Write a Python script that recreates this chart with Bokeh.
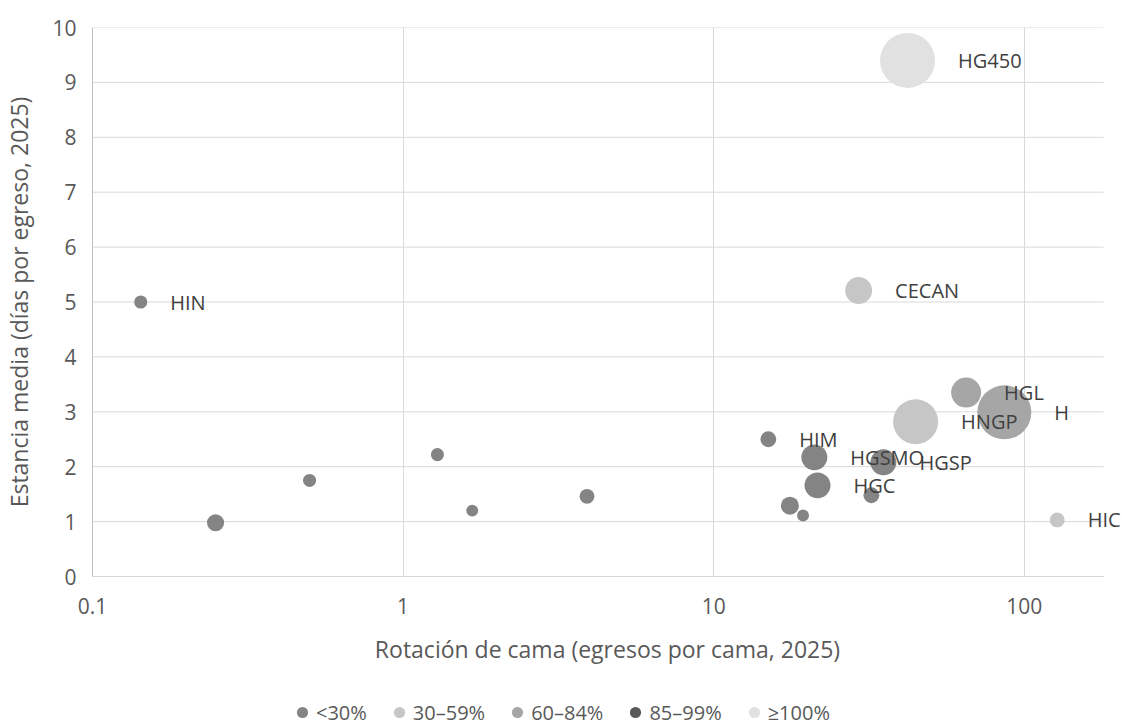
import math
from bokeh.plotting import figure
from bokeh.layouts import column
from bokeh.models import ColumnDataSource, FixedTicker, Legend, LegendItem
from bokeh.core.properties import value
from bokeh.embed import file_html
from bokeh.resources import INLINE

# ---------------- data ----------------
hospitales = ["HIN", "", "", "", "", "", "HIM", "HGSMO", "HGC", "", "", "",
              "HGSP", "HNGP", "HGL", "H", "HIC", "CECAN", "HG450"]
rotacion = [0.143, 0.249, 0.50, 1.29, 1.67, 3.91, 15.0, 21.1, 21.6, 17.6, 19.4, 32.2,
            35.2, 44.7, 65.0, 86.3, 127.7, 29.3, 42.1]
estancia = [5.00, 0.98, 1.75, 2.22, 1.20, 1.46, 2.50, 2.17, 1.66, 1.29, 1.11, 1.48,
            2.08, 2.82, 3.35, 2.99, 1.03, 5.21, 9.40]
camas = [17, 29, 17, 17, 14, 22, 25, 67, 67, 32, 14, 25,
         67, 201, 89, 289, 22, 72, 300]
ocupacion = ["<30%", "<30%", "<30%", "<30%", "<30%", "<30%", "<30%", "<30%", "<30%", "<30%", "<30%", "<30%",
             "<30%", "30–59%", "60–84%", "60–84%", "30–59%", "30–59%", "≥100%"]

categorias = ["<30%", "30–59%", "60–84%", "85–99%", "≥100%"]
colores = ["#848484", "#C6C6C6", "#A6A6A6", "#595959", "#E1E1E1"]

x_ticks = [0.1, 1, 10, 100]
x_tick_labels = ["0.1", "1", "10", "100"]
y_ticks = list(range(0, 11))
y_tick_labels = [str(v) for v in y_ticks]

X_MIN, X_MAX = 0.1, 180      # visible axis extent (gridlines / axis line end here)
FONT = "Open Sans"
MAX_R = 27.5                 # px radius of the largest bubble

W = 1122
H_MAIN, H_LEG = 680, 46
LEFT, TOP = 92, 27
FRAME_BOTTOM = 576
AXIS_RIGHT = 1103            # pixel where the axis/gridlines end; labels may pass it
frame_w = W - LEFT
x_end = 10 ** (math.log10(X_MIN) + (math.log10(X_MAX) - math.log10(X_MIN)) * frame_w / (AXIS_RIGHT - LEFT))

# ---------------- main figure ----------------
p = figure(width=W, height=H_MAIN, x_axis_type="log", x_range=(X_MIN, x_end), y_range=(0, 10),
           output_backend="svg", toolbar_location=None,
           min_border_left=LEFT, min_border_right=0, min_border_top=TOP,
           min_border_bottom=H_MAIN - FRAME_BOTTOM)
p.outline_line_color = None
p.background_fill_color = "white"
p.border_fill_color = "white"

# horizontal gridlines that stop at the axis extent
p.ygrid.visible = False
p.segment(x0=[X_MIN] * len(y_ticks), x1=[X_MAX] * len(y_ticks), y0=y_ticks, y1=y_ticks,
          line_color="#D9D9D9", line_width=1)
p.segment(x0=[X_MIN], x1=[X_MAX], y0=[y_ticks[0]], y1=[y_ticks[0]], line_color="#BFBFBF", line_width=1)

cmax = max(camas)
diam = [2 * MAX_R * math.sqrt(c / cmax) for c in camas]
offs = [d / 2 + 23 for d in diam]

for cat, col in zip(categorias, colores):
    idx = [i for i, o in enumerate(ocupacion) if o == cat]
    src = ColumnDataSource(dict(x=[rotacion[i] for i in idx], y=[estancia[i] for i in idx],
                                s=[diam[i] for i in idx]))
    p.scatter(x="x", y="y", size="s", source=src, fill_color=col, line_color=None)

lab_src = ColumnDataSource(dict(x=rotacion, y=estancia, t=hospitales, off=offs))
p.text(x="x", y="y", text="t", source=lab_src, x_offset="off", text_baseline="middle",
       text_align="left", text_font=value(FONT), text_font_size="20px", text_color="#404040")

# axes
for ax in (p.xaxis[0], p.yaxis[0]):
    ax.major_tick_line_color = None
    ax.minor_tick_line_color = None
    ax.axis_line_color = "#BFBFBF"
    ax.major_label_text_font = FONT
    ax.major_label_text_font_size = "21px"
    ax.major_label_text_color = "#595959"
    ax.axis_label_text_font = FONT
    ax.axis_label_text_font_size = "23px"
    ax.axis_label_text_color = "#595959"
    ax.axis_label_text_font_style = "normal"

p.xaxis.axis_line_color = None
p.xaxis.ticker = FixedTicker(ticks=x_ticks)
p.xaxis.major_label_overrides = {t: l for t, l in zip(x_ticks, x_tick_labels)}
p.xaxis.axis_label = "Rotación de cama (egresos por cama, 2025)"
p.xaxis.major_label_standoff = 15
p.xaxis.axis_label_standoff = 16

p.yaxis.ticker = FixedTicker(ticks=y_ticks)
p.yaxis.major_label_overrides = {t: l for t, l in zip(y_ticks, y_tick_labels)}
p.yaxis.axis_label = "Estancia media (días por egreso, 2025)"
p.yaxis.major_label_standoff = 10
p.yaxis.axis_label_standoff = 14

p.xgrid.ticker = FixedTicker(ticks=x_ticks)
p.xgrid.grid_line_color = "#D9D9D9"
p.xgrid.minor_grid_line_color = None

# ---------------- legend strip ----------------
leg = figure(width=W, height=H_LEG, x_range=(0, 1), y_range=(0, 1),
             output_backend="svg", toolbar_location=None,
             x_axis_location=None, y_axis_location=None,
             min_border_left=0, min_border_right=0, min_border_top=0, min_border_bottom=0)
leg.outline_line_color = None
leg.xgrid.visible = False
leg.ygrid.visible = False
proxy_src = ColumnDataSource(dict(x=rotacion, y=estancia))
leg_renderers = []
for col in colores:
    r = leg.scatter(x="x", y="y", source=proxy_src, size=12, fill_color=col, line_color=None)
    r.visible = False   # legend proxy only
    leg_renderers.append(r)

legend = Legend(items=[LegendItem(label=c, renderers=[r]) for c, r in zip(categorias, leg_renderers)],
                orientation="horizontal", location=(196, -1),
                glyph_width=28, glyph_height=30, label_standoff=0, spacing=18,
                padding=0, margin=0, border_line_color=None, background_fill_alpha=0,
                inactive_fill_alpha=0, click_policy="none",
                label_text_font=FONT, label_text_font_size="20px", label_text_color="#595959")
leg.add_layout(legend)

open("out.html", "w").write(file_html(column(p, leg, spacing=0), INLINE))
